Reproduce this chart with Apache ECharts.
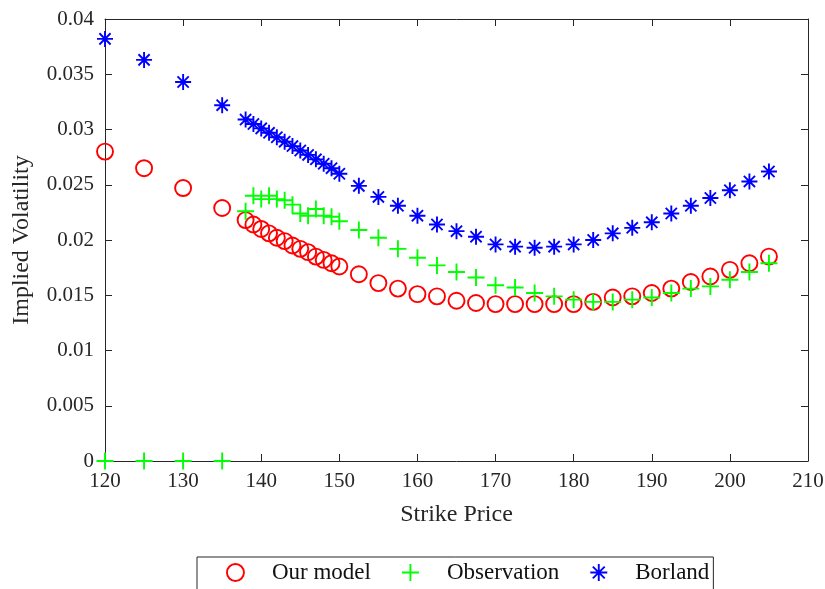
<!DOCTYPE html>
<html>
<head>
<meta charset="utf-8">
<script src="https://cdn.jsdelivr.net/npm/echarts@6/dist/echarts.min.js"></script>
<style>html,body{margin:0;padding:0;background:#fff;}#chart{width:825px;height:589px;}</style>
</head>
<body>
<div id="chart"></div>
<script>
var strikes = [120,125,130,135,
  138,139,140,141,142,143,144,145,146,147,148,149,150,
  152.5,155,157.5,160,162.5,165,167.5,170,172.5,175,177.5,180,182.5,185,187.5,190,192.5,195,197.5,200,202.5,205];
var ourModel = [0.0280,0.0265,0.0247,0.0229,
  0.0218,0.0214,0.0210,0.0206,0.0202,0.0199,0.0195,0.0192,0.0189,0.0185,0.0182,0.0179,0.0176,
  0.0169,0.0161,0.0156,0.0151,0.0149,0.0145,0.0143,0.0142,0.0142,0.0142,0.0142,0.0142,0.0144,0.0148,0.0149,0.0152,0.0156,0.0162,0.0167,0.0173,0.0179,0.0185];
var observation = [0,0,0,0,
  0.0226,0.0240,0.0237,0.0240,0.0237,0.0236,0.0232,0.0224,0.0222,0.0228,0.0222,0.0221,0.0217,
  0.0209,0.0202,0.0192,0.0184,0.0177,0.0171,0.0166,0.0159,0.0157,0.0152,0.0149,0.0146,0.0144,0.0144,0.0146,0.0148,0.0152,0.0156,0.0158,0.0164,0.0171,0.0179];
var borland = [0.0382,0.0363,0.0343,0.0322,
  0.0309,0.0305,0.0301,0.0297,0.0293,0.0289,0.0285,0.0281,0.0277,0.0273,0.0269,0.0265,0.0260,
  0.0249,0.0239,0.0231,0.0222,0.0214,0.0208,0.0203,0.0196,0.0194,0.0193,0.0194,0.0196,0.0200,0.0206,0.0211,0.0216,0.0224,0.0231,0.0238,0.0245,0.0253,0.0262];
var seriesNames = ['Our model','Observation','Borland'];
var xLabel = 'Strike Price';
var yLabel = 'Implied Volatility';

function pairs(vals){ return strikes.map(function(s,i){ return [s, vals[i]]; }); }

var FONT = 'Liberation Serif';
var AX = '#262626';
var PLUS = 'path://M10,0L10,20M0,10L20,10';
var STAR = 'path://M10,0L10,20M0,10L20,10M3,3L17,17M17,3L3,17';
var SW = 1.9;

function axisCommon(extra){
  var o = {
    axisLine:{show:true, onZero:false, lineStyle:{color:AX, width:1}},
    axisTick:{show:true, inside:true, length:7, lineStyle:{color:AX, width:1}},
    splitLine:{show:false},
    axisLabel:{color:AX, fontFamily:FONT, fontSize:21}
  };
  for (var k in extra) o[k] = extra[k];
  return o;
}

var chart = echarts.init(document.getElementById('chart'), null, {renderer:'canvas'});
chart.setOption({
  animation:false,
  backgroundColor:'#fff',
  grid:{left:105, right:17, top:19, bottom:128, containLabel:false, outerBoundsMode:'none'},
  xAxis:[
    axisCommon({type:'value', min:120, max:210, interval:10, position:'bottom',
      name:xLabel, nameLocation:'middle', nameGap:42,
      nameTextStyle:{color:AX, fontFamily:FONT, fontSize:24},
      axisLabel:{color:AX, fontFamily:FONT, fontSize:21, margin:10}}),
    axisCommon({type:'value', min:120, max:210, interval:10, position:'top',
      axisLabel:{show:false}})
  ],
  yAxis:[
    axisCommon({type:'value', min:0, max:0.04, interval:0.005, position:'left',
      name:yLabel, nameLocation:'middle', nameGap:71, nameRotate:90,
      nameTextStyle:{color:AX, fontFamily:FONT, fontSize:24},
      axisLabel:{color:AX, fontFamily:FONT, fontSize:21, margin:11}}),
    axisCommon({type:'value', min:0, max:0.04, interval:0.005, position:'right',
      axisLabel:{show:false}})
  ],
  legend:{
    left:197, top:557,
    orient:'horizontal',
    data:seriesNames,
    itemWidth:17, itemHeight:17, itemGap:30,
    padding:[4,4,30,29],
    borderColor:AX, borderWidth:1,
    formatter:'{t|{name}}',
    textStyle:{color:'#111', fontFamily:FONT, fontSize:23,
      rich:{t:{padding:[0,0,0,23], fontFamily:FONT, fontSize:23, color:'#111'}}},
    itemStyle:{borderWidth:SW, opacity:1}
  },
  series:[
    {name:seriesNames[0], type:'scatter', data:pairs(ourModel), symbol:'circle', symbolSize:16, clip:false,
      itemStyle:{color:'transparent', borderColor:'#ff0000', borderWidth:SW, opacity:1}},
    {name:seriesNames[1], type:'scatter', data:pairs(observation), symbol:PLUS, symbolSize:17, clip:false,
      itemStyle:{color:'transparent', borderColor:'#00ff00', borderWidth:SW, opacity:1}},
    {name:seriesNames[2], type:'scatter', data:pairs(borland), symbol:STAR, symbolSize:16, clip:false,
      itemStyle:{color:'transparent', borderColor:'#0000ff', borderWidth:SW, opacity:1}}
  ]
});
</script>
</body>
</html>
